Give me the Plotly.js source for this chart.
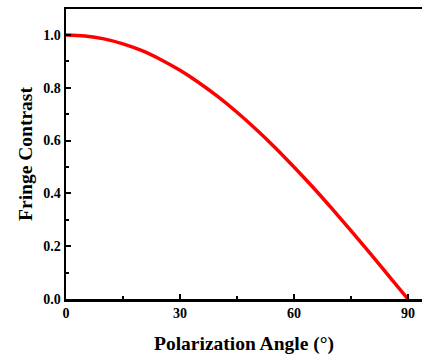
<!DOCTYPE html>
<html>
<head>
<meta charset="utf-8">
<script src="https://cdn.plot.ly/plotly-3.0.1.min.js"></script>
<style>html,body{margin:0;padding:0;background:#fff;}#chart{width:422px;height:356px;}</style>
</head>
<body>
<div id="chart"></div>
<script>
const angles = [0, 5, 10, 15, 20, 25, 30, 35, 40, 45, 50, 55, 60, 65, 70, 75, 80, 85, 90];
const contrast = [1.0, 0.996, 0.985, 0.966, 0.94, 0.906, 0.866, 0.819, 0.766, 0.707, 0.643, 0.574, 0.5, 0.423, 0.342, 0.259, 0.174, 0.087, 0.0];
const xTicks = [0, 30, 60, 90];
const yTicks = [0.0, 0.2, 0.4, 0.6, 0.8, 1.0];
const yTickText = ['0.0', '0.2', '0.4', '0.6', '0.8', '1.0'];

const fam = 'Liberation Serif, Times New Roman, serif';

Plotly.newPlot('chart', [{
  x: angles, y: contrast, type: 'scatter', mode: 'lines',
  line: {color: '#ff0000', width: 3.5, shape: 'spline'},
  cliponaxis: false
}], {
  width: 422, height: 356,
  margin: {l: 66, r: 0, t: 9, b: 57},
  paper_bgcolor: '#fff', plot_bgcolor: '#fff',
  showlegend: false,
  xaxis: {
    range: [0, 93.7], tickvals: xTicks, ticktext: xTicks.map(String),
    ticks: 'inside', ticklen: 5, tickwidth: 2, tickcolor: '#000',
    minor: {dtick: 15, ticks: 'inside', ticklen: 3, tickwidth: 2, tickcolor: '#000'},
    showline: true, linecolor: '#000', linewidth: 2.5, mirror: true,
    showgrid: false, zeroline: false,
    tickfont: {family: fam, color: '#000', size: 14, weight: 'bold'},
    title: {text: '<b>Polarization Angle (°)</b>', font: {family: fam, color: '#000', size: 19.5}, standoff: 16}
  },
  yaxis: {
    range: [0, 1.098], tickvals: yTicks, ticktext: yTickText,
    ticks: 'inside', ticklen: 5, tickwidth: 2, tickcolor: '#000',
    minor: {dtick: 0.1, ticks: 'inside', ticklen: 3, tickwidth: 2, tickcolor: '#000'},
    showline: true, linecolor: '#000', linewidth: 2.5, mirror: false,
    showgrid: false, zeroline: false,
    tickfont: {family: fam, color: '#000', size: 14, weight: 'bold'},
    title: {text: '<b>Fringe Contrast</b>', font: {family: fam, color: '#000', size: 19.5}, standoff: 6}
  }
}, {staticPlot: true});
</script>
</body>
</html>
